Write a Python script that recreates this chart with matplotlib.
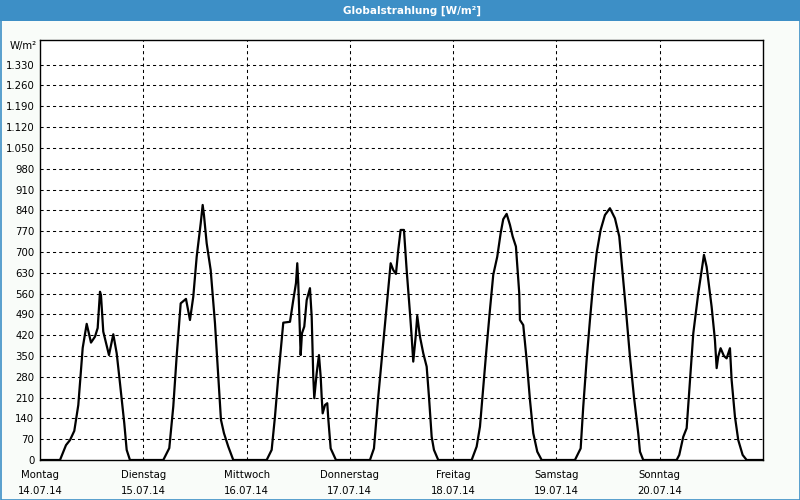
import numpy as np
import matplotlib
matplotlib.use("Agg")
import matplotlib.pyplot as plt
from matplotlib.patches import Rectangle

# ===============================================================
#  Data: global radiation, hours since Monday 00:00
# ===============================================================
hours = [0.0, 4.65, 6.04, 6.97, 7.97, 8.9, 9.29, 9.92, 10.85, 11.85, 12.78, 13.4, 13.94, 14.17,
         14.7, 16.03, 17.03, 17.82, 18.58, 19.58, 20.14, 20.9,
         # Dienstag
         28.65, 30.04, 30.97, 31.76, 32.69, 33.92, 34.85, 35.62, 36.41, 37.34, 37.8, 38.1,
         38.73, 39.66, 40.66, 41.43, 42.05, 42.75, 43.75, 44.91,
         # Mittwoch
         52.67, 53.83, 54.6, 55.37, 56.53, 58.09, 58.85, 59.48, 59.78, 60.01, 60.41, 60.57,
         60.87, 61.41, 61.97, 62.73, 63.13, 63.5, 63.73, 64.29, 64.82, 65.22, 65.45, 65.68,
         66.22, 66.75, 66.98, 67.54, 68.77,
         # Donnerstag
         76.67, 77.6, 78.6, 79.76, 80.69, 81.48, 82.09, 82.71, 83.25, 83.8, 84.57, 85.2,
         85.97, 86.36, 86.73, 87.29, 87.66, 88.29, 89.06, 89.85, 90.38, 91.01, 91.54, 92.54,
         # Freitag
         100.3, 101.46, 102.23, 103.0, 103.79, 104.55, 105.32, 106.25, 107.04, 107.64, 108.43,
         109.2, 109.83, 110.59, 111.36, 111.52, 112.29, 113.08, 113.85, 114.62, 115.55, 116.57,
         # Samstag
         124.3, 125.63, 126.23, 127.02, 127.79, 128.55, 129.34, 130.27, 131.27, 132.43, 133.6,
         134.6, 135.39, 136.15, 137.08, 138.01, 139.01, 139.41, 140.17,
         # Sonntag
         147.93, 148.54, 149.47, 150.26, 151.03, 151.8, 152.96, 154.28, 154.9, 156.06, 156.83,
         157.23, 157.6, 158.15, 158.92, 159.55, 160.32, 160.71, 161.48, 162.25, 163.27, 164.2,
         168.0]

radiation = [0, 0, 50, 67, 98, 185, 259, 377, 458, 395, 415, 444, 566, 555,
             432, 353, 423, 359, 259, 124, 34, 0,
             0, 40, 180, 350, 527, 542, 471, 550, 684, 796, 858, 824,
             729, 639, 460, 280, 135, 90, 45, 0,
             0, 34, 146, 280, 462, 465, 538, 595, 662, 595, 426, 353,
             426, 449, 538, 578, 482, 280, 208, 292, 353, 280, 213, 157,
             185, 191, 140, 39, 0,
             0, 39, 213, 393, 538, 662, 639, 626, 707, 774, 774, 639,
             494, 415, 331, 415, 485, 415, 359, 314, 213, 78, 34, 0,
             0, 45, 112, 247, 381, 505, 623, 684, 763, 810, 828,
             791, 752, 718, 561, 471, 454, 337, 202, 90, 28, 0,
             0, 39, 179, 337, 471, 595, 696, 774, 824, 847, 813,
             752, 628, 505, 348, 213, 90, 28, 0,
             0, 17, 78, 107, 269, 426, 561, 690, 650, 516, 404,
             309, 348, 376, 350, 342, 376, 269, 146, 67, 17, 0,
             0]

days = ['Montag', 'Dienstag', 'Mittwoch', 'Donnerstag', 'Freitag', 'Samstag', 'Sonntag']
dates = ['14.07.14', '15.07.14', '16.07.14', '17.07.14', '18.07.14', '19.07.14', '20.07.14']
yticks = np.arange(70, 1331, 70)

# ===============================================================
#  Figure
# ===============================================================
plt.rcParams['font.family'] = 'DejaVu Sans'
fs = 7.3
fig = plt.figure(figsize=(8, 5), dpi=100, facecolor='#f9fcf9')

# title bar
fig.patches.append(Rectangle((0, 1 - 21/500), 1, 21/500, transform=fig.transFigure,
                             facecolor='#3d8fc6', edgecolor='none', zorder=0))
fig.text(412/800, 1 - 10.5/500, 'Globalstrahlung [W/m²]', color='white', fontsize=7.5,
         fontweight='bold', ha='center', va='center')
# outer frame
fig.patches.append(Rectangle((0.5/800, 0.5/500), 799/800, 499/500, transform=fig.transFigure,
                             facecolor='none', edgecolor='#3d8fc6', linewidth=1.2, zorder=5))

ax = fig.add_axes([40/800, 40/500, 723/800, 420/500])
ax.set_facecolor('white')
ax.plot(hours, radiation, color='k', linewidth=1.6, zorder=3)

ax.set_xlim(0, 168)
ax.set_ylim(0, 1413)

ax.set_yticks(np.concatenate(([0], yticks)))
ax.set_yticklabels(['0'] + [f'{v:,}'.replace(',', '.') for v in yticks])
ax.set_xticks(np.arange(0, 168, 24))
ax.set_xticklabels([f'{d}\n{t}' for d, t in zip(days, dates)], linespacing=1.75)
ax.tick_params(length=0, labelsize=fs, pad=4)
ax.tick_params(axis='x', pad=7)

for v in yticks:
    ax.axhline(v, color='k', linestyle=(0, (3, 3)), linewidth=0.75, zorder=1)
for h in range(24, 168, 24):
    ax.axvline(h, color='k', linestyle=(0, (3, 3)), linewidth=0.75, zorder=1)

for s in ax.spines.values():
    s.set_color('k')
    s.set_linewidth(1.0)

fig.text(10/800, 1 - 46/500, 'W/m²', fontsize=fs, ha='left', va='center')

fig.savefig('out.png', dpi=100, facecolor=fig.get_facecolor())
